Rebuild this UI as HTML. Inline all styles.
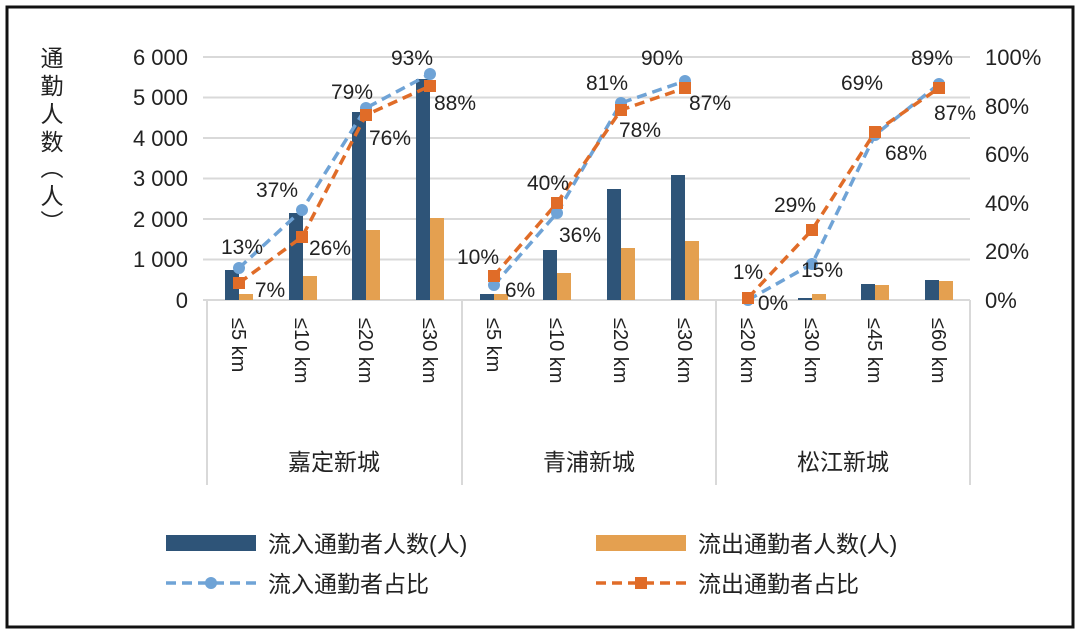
<!DOCTYPE html>
<html><head><meta charset="utf-8"><style>
body{margin:0;background:#fff}
svg{display:block;font-family:"Liberation Sans","Noto Sans CJK SC",sans-serif}
</style></head><body>
<svg width="1080" height="634" viewBox="0 0 1080 634" xmlns="http://www.w3.org/2000/svg">
<rect x="0" y="0" width="1080" height="634" fill="#fff"/>
<rect x="7" y="7" width="1066" height="620" fill="none" stroke="#111" stroke-width="3"/>
<g stroke="#d9d9d9" stroke-width="2">
<line x1="203" x2="970" y1="57" y2="57"/><line x1="203" x2="970" y1="97.5" y2="97.5"/>
<line x1="203" x2="970" y1="138" y2="138"/><line x1="203" x2="970" y1="178.5" y2="178.5"/>
<line x1="203" x2="970" y1="219" y2="219"/><line x1="203" x2="970" y1="259.5" y2="259.5"/>
<line x1="203" x2="970" y1="300" y2="300"/>
<line x1="207" x2="207" y1="300" y2="485"/><line x1="462" x2="462" y1="300" y2="485"/>
<line x1="716" x2="716" y1="300" y2="485"/><line x1="970" x2="970" y1="300" y2="485"/>
</g>
<g font-size="22" fill="#222" text-anchor="end">
<text x="188" y="65">6  000</text><text x="188" y="105">5  000</text><text x="188" y="146">4  000</text>
<text x="188" y="186">3  000</text><text x="188" y="227">2  000</text><text x="188" y="267">1  000</text>
<text x="188" y="308">0</text>
</g>
<g font-size="22" fill="#222" text-anchor="start">
<text x="985" y="65">100%</text><text x="985" y="114">80%</text><text x="985" y="162">60%</text>
<text x="985" y="211">40%</text><text x="985" y="259">20%</text><text x="985" y="308">0%</text>
</g>
<g font-size="23" fill="#222" text-anchor="middle">
<text x="52" y="66">通</text><text x="52" y="94">勤</text><text x="52" y="122">人</text><text x="52" y="150">数</text>
<text x="52" y="176">︵</text><text x="52" y="204">人</text><text x="52" y="230">︶</text>
</g>
<g fill="#2e5478">
<rect x="225" y="270" width="14" height="30"/><rect x="289" y="213" width="14" height="87"/>
<rect x="352" y="112" width="14" height="188"/><rect x="416" y="79" width="14" height="221"/>
<rect x="480" y="294" width="14" height="6"/><rect x="543" y="250" width="14" height="50"/>
<rect x="607" y="189" width="14" height="111"/><rect x="671" y="175" width="14" height="125"/>
<rect x="798" y="298" width="14" height="2"/><rect x="861" y="284" width="14" height="16"/>
<rect x="925" y="280" width="14" height="20"/>
</g>
<g fill="#e4a050">
<rect x="239" y="294" width="14" height="6"/><rect x="303" y="276" width="14" height="24"/>
<rect x="366" y="230" width="14" height="70"/><rect x="430" y="218" width="14" height="82"/>
<rect x="494" y="294" width="14" height="6"/><rect x="557" y="273" width="14" height="27"/>
<rect x="621" y="248" width="14" height="52"/><rect x="685" y="241" width="14" height="59"/>
<rect x="812" y="294" width="14" height="6"/><rect x="875" y="285" width="14" height="15"/>
<rect x="939" y="281" width="14" height="19"/>
</g>
<g fill="none" stroke-width="3.5" stroke-dasharray="10,6">
<polyline stroke="#6fa3d6" points="239,268 302,210 366,108 430,74"/>
<polyline stroke="#e06c28" points="239,283 302,237 366,115 430,86"/>
<polyline stroke="#6fa3d6" points="494,285 557,213 621,103 685,81"/>
<polyline stroke="#e06c28" points="494,276 557,203 621,110 685,88"/>
<polyline stroke="#6fa3d6" points="748,300 812,264 875,135 939,84"/>
<polyline stroke="#e06c28" points="748,298 812,230 875,132 939,88"/>
</g>
<g fill="#6fa3d6">
<circle cx="239" cy="268" r="6"/><circle cx="302" cy="210" r="6"/><circle cx="366" cy="108" r="6"/><circle cx="430" cy="74" r="6"/>
<circle cx="494" cy="285" r="6"/><circle cx="557" cy="213" r="6"/><circle cx="621" cy="103" r="6"/><circle cx="685" cy="81" r="6"/>
<circle cx="748" cy="300" r="6"/><circle cx="812" cy="264" r="6"/><circle cx="875" cy="135" r="6"/><circle cx="939" cy="84" r="6"/>
</g>
<g fill="#e06c28">
<rect x="233" y="277" width="12" height="12"/><rect x="296" y="231" width="12" height="12"/><rect x="360" y="109" width="12" height="12"/><rect x="424" y="80" width="12" height="12"/>
<rect x="488" y="270" width="12" height="12"/><rect x="551" y="197" width="12" height="12"/><rect x="615" y="104" width="12" height="12"/><rect x="679" y="82" width="12" height="12"/>
<rect x="742" y="292" width="12" height="12"/><rect x="806" y="224" width="12" height="12"/><rect x="869" y="126" width="12" height="12"/><rect x="933" y="82" width="12" height="12"/>
</g>
<g font-size="21" fill="#222" text-anchor="middle">
<text x="242" y="254">13%</text><text x="270" y="297">7%</text><text x="277" y="197">37%</text><text x="330" y="255">26%</text>
<text x="352" y="99">79%</text><text x="390" y="145">76%</text><text x="412" y="65">93%</text><text x="455" y="110">88%</text>
<text x="478" y="264">10%</text><text x="520" y="297">6%</text><text x="548" y="190">40%</text><text x="580" y="242">36%</text>
<text x="607" y="90">81%</text><text x="640" y="137">78%</text><text x="662" y="65">90%</text><text x="710" y="110">87%</text>
<text x="748" y="279">1%</text><text x="773" y="310">0%</text><text x="795" y="212">29%</text><text x="822" y="277">15%</text>
<text x="862" y="90">69%</text><text x="906" y="160">68%</text><text x="932" y="65">89%</text><text x="955" y="120">87%</text>
</g>
<g font-size="20" fill="#222">
<text transform="translate(232,318) rotate(90)">≤5 km</text>
<text transform="translate(295,318) rotate(90)">≤10 km</text>
<text transform="translate(359,318) rotate(90)">≤20 km</text>
<text transform="translate(423,318) rotate(90)">≤30 km</text>
<text transform="translate(487,318) rotate(90)">≤5 km</text>
<text transform="translate(550,318) rotate(90)">≤10 km</text>
<text transform="translate(614,318) rotate(90)">≤20 km</text>
<text transform="translate(678,318) rotate(90)">≤30 km</text>
<text transform="translate(741,318) rotate(90)">≤20 km</text>
<text transform="translate(805,318) rotate(90)">≤30 km</text>
<text transform="translate(868,318) rotate(90)">≤45 km</text>
<text transform="translate(932,318) rotate(90)">≤60 km</text>
</g>
<g font-size="23" fill="#222" text-anchor="middle">
<text x="334" y="470">嘉定新城</text><text x="589" y="470">青浦新城</text><text x="843" y="470">松江新城</text>
</g>
<rect x="166" y="535" width="90" height="16" fill="#2e5478"/>
<rect x="596" y="535" width="90" height="16" fill="#e4a050"/>
<line x1="166" x2="256" y1="583" y2="583" stroke="#6fa3d6" stroke-width="3.5" stroke-dasharray="10,6"/>
<circle cx="211" cy="583" r="6" fill="#6fa3d6"/>
<line x1="596" x2="686" y1="583" y2="583" stroke="#e06c28" stroke-width="3.5" stroke-dasharray="10,6"/>
<rect x="635" y="577" width="12" height="12" fill="#e06c28"/>
<g font-size="23" fill="#222">
<text x="268" y="552">流入通勤者人数(人)</text><text x="698" y="552">流出通勤者人数(人)</text>
<text x="268" y="592">流入通勤者占比</text><text x="698" y="592">流出通勤者占比</text>
</g>
</svg>
</body></html>
